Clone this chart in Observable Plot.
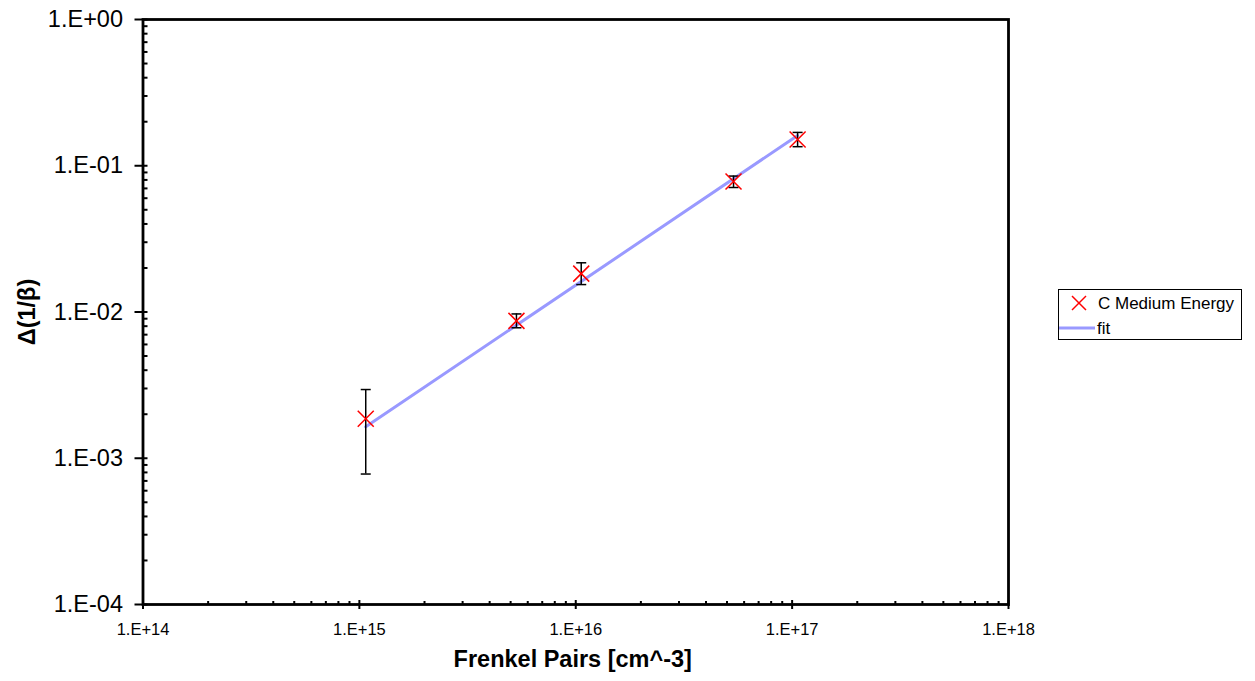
<!DOCTYPE html>
<html>
<head>
<meta charset="utf-8">
<script src="https://cdn.jsdelivr.net/npm/d3@7"></script>
<script src="https://cdn.jsdelivr.net/npm/@observablehq/plot@0.6"></script>
<style>
  html, body { margin: 0; padding: 0; background: white; }
  #wrap { position: relative; width: 1255px; height: 681px; font-family: "Liberation Sans", Arial, sans-serif; }
  #legend { position: absolute; left: 1058px; top: 289px; width: 184px; height: 51px; border: 1px solid #000; box-sizing: border-box; background: white; }
</style>
</head>
<body>
<div id="wrap">
  <div id="chart"></div>
  <div id="legend">
    <svg width="184" height="51" style="position:absolute;left:0;top:0;font-family:'Liberation Sans', Arial, sans-serif">
      <g stroke="red" stroke-width="1.5"><line x1="13" y1="6" x2="27" y2="20"/><line x1="27" y1="6" x2="13" y2="20"/></g>
      <text x="39" y="19" font-size="17" fill="black">C Medium Energy</text>
      <line x1="0" y1="38" x2="36" y2="38" stroke="#9999ff" stroke-width="3"/>
      <text x="38" y="44" font-size="17" fill="black">fit</text>
    </svg>
  </div>
</div>
<script>
// ---- data ----
const xVals   = [1.07e15, 5.32e15, 1.06e16, 5.36e16, 1.06e17];
const yVals   = [1.86e-3, 8.7e-3, 1.83e-2, 7.8e-2, 0.151];
const yErrLo  = [7.8e-4, 7.8e-3, 1.54e-2, 7.1e-2, 0.135];
const yErrHi  = [2.95e-3, 9.7e-3, 2.17e-2, 8.5e-2, 0.169];
const fitX    = [1.07e15, 1.06e17];
const fitY    = [1.64e-3, 0.161];
const xTicks  = [1e14, 1e15, 1e16, 1e17, 1e18];
const xLabels = ["1.E+14", "1.E+15", "1.E+16", "1.E+17", "1.E+18"];
const yTicks  = [1e-4, 1e-3, 1e-2, 1e-1, 1];
const yLabels = ["1.E-04", "1.E-03", "1.E-02", "1.E-01", "1.E+00"];
const seriesName = "C Medium Energy";
const fitName = "fit";
const xTitle = "Frenkel Pairs [cm^-3]";
const yTitle = "Δ(1/β)";

const points = xVals.map((x, i) => ({x, y: yVals[i], lo: yErrLo[i], hi: yErrHi[i]}));
const fit = fitX.map((x, i) => ({x, y: fitY[i]}));

const minorX = [];
for (let e = 14; e < 18; e++) for (let m = 2; m <= 9; m++) minorX.push(m * Math.pow(10, e));
const minorY = [];
for (let e = -4; e < 0; e++) for (let m = 2; m <= 9; m++) minorY.push(m * Math.pow(10, e));

const W = 1255, H = 681;
const mL = 142.5, mR = 247, mT = 19, mB = 77;
const fw = W - mL - mR, fh = H - mT - mB;

const capSymbol = {draw(ctx, size) { const r = Math.sqrt(size / Math.PI); ctx.moveTo(-r, 0); ctx.lineTo(r, 0); }};
const crossSymbol = {draw(ctx, size) { const r = Math.sqrt(size / Math.PI); ctx.moveTo(-r, -r); ctx.lineTo(r, r); ctx.moveTo(r, -r); ctx.lineTo(-r, r); }};

const chart = Plot.plot({
  width: W, height: H,
  marginLeft: mL, marginRight: mR, marginTop: mT, marginBottom: mB,
  style: {fontFamily: "'Liberation Sans', Arial, sans-serif", color: "black", background: "white"},
  x: {type: "log", domain: [1e14, 1e18]},
  y: {type: "log", domain: [1e-4, 1]},
  marks: [
    // minor ticks (inside)
    Plot.tickX(minorX, {x: d => d, insetTop: fh - 3, stroke: "black", strokeWidth: 2}),
    Plot.tickY(minorY, {y: d => d, insetRight: fw - 5, stroke: "black", strokeWidth: 2}),
    // major ticks inside part
    Plot.tickX(xTicks, {x: d => d, insetTop: fh - 4, stroke: "black", strokeWidth: 2}),
    Plot.tickY(yTicks, {y: d => d, insetRight: fw - 5, stroke: "black", strokeWidth: 2}),
    Plot.axisX({ticks: xTicks, tickSize: 5, text: null, strokeWidth: 2, label: null}),
    Plot.text(xTicks, {x: d => d, text: (d, i) => xLabels[i], frameAnchor: "bottom", lineAnchor: "top", dy: 19, fontSize: 16.5, fill: "black"}),
    Plot.axisY({ticks: yTicks, tickFormat: d => yLabels[yTicks.indexOf(d)], tickSize: 8, tickPadding: 12, fontSize: 23.5, strokeWidth: 2, label: null}),
    Plot.frame({stroke: "black", strokeWidth: 2.8}),
    // fit line
    Plot.line(fit, {x: "x", y: "y", stroke: "#9999ff", strokeWidth: 3}),
    // error bars
    Plot.ruleX(points, {x: "x", y1: "lo", y2: "hi", stroke: "black", strokeWidth: 1.5}),
    Plot.dot(points, {x: "x", y: "lo", symbol: capSymbol, r: 5, stroke: "black", strokeWidth: 1.5, fill: "none"}),
    Plot.dot(points, {x: "x", y: "hi", symbol: capSymbol, r: 5, stroke: "black", strokeWidth: 1.5, fill: "none"}),
    // markers
    Plot.dot(points, {x: "x", y: "y", symbol: crossSymbol, r: 8, stroke: "red", strokeWidth: 1.5, fill: "none"}),
    // axis titles
    Plot.text([xTitle], {frameAnchor: "bottom", text: d => d, dx: -3, dy: 62, fontSize: 23.5, fontWeight: "bold", fill: "black"}),
    Plot.text([yTitle], {frameAnchor: "left", text: d => d, dx: -116, rotate: -90, textAnchor: "middle", fontSize: 23.5, fontWeight: "bold", fill: "black"})
  ]
});
document.getElementById("chart").appendChild(chart);
</script>
</body>
</html>
